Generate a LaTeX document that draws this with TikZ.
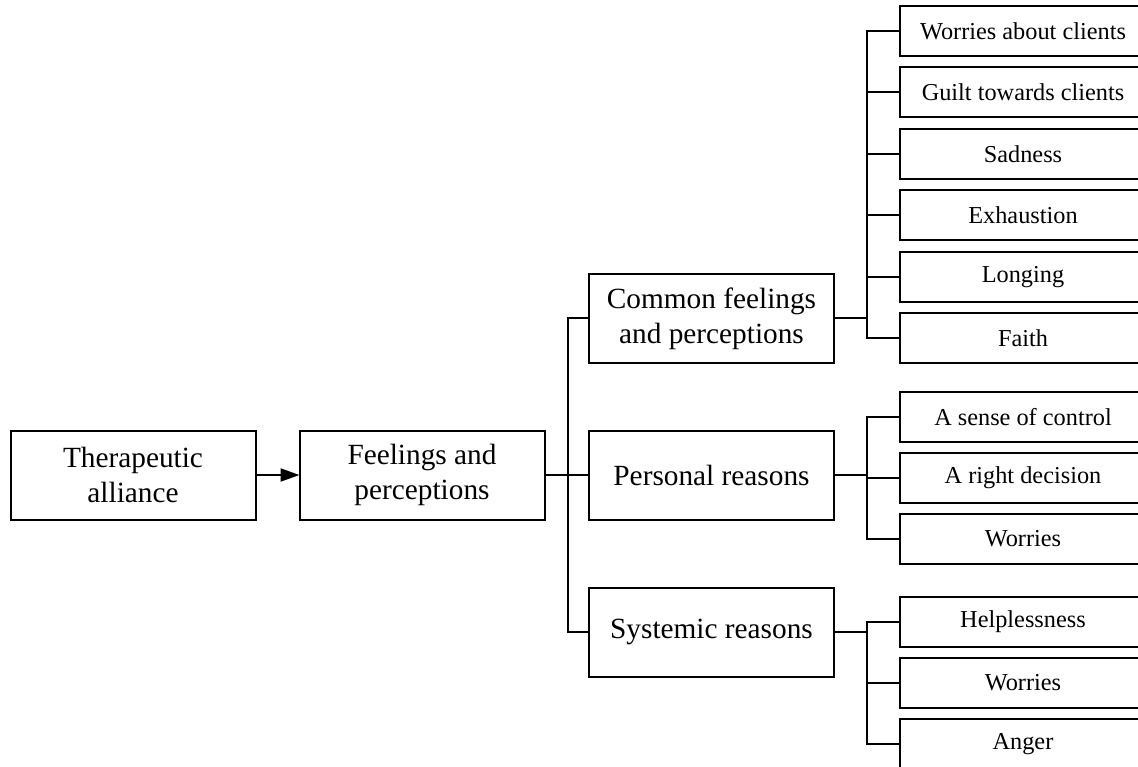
\documentclass[tikz,border=0pt]{standalone}
\usepackage{fontspec}
\setmainfont{Liberation Serif}
\usetikzlibrary{arrows.meta}
\tikzset{
  mainbox/.style={draw, line width=2pt, outer sep=0pt, inner sep=0pt, minimum width=245pt, minimum height=89pt, align=center, font=\fontsize{29.3}{35}\selectfont},
  leafbox/.style={draw, line width=2pt, outer sep=0pt, inner sep=0pt, minimum width=246pt, minimum height=50pt, align=center, font=\fontsize{24.3}{29}\selectfont},
  link/.style={line width=2pt},
}
\begin{document}
\begin{tikzpicture}[x=1pt, y=-1pt]
\useasboundingbox (0,0) rectangle (1138,767);
\clip (0,0) rectangle (1138,767);
\node[mainbox] (ta) at (133,475) {Therapeutic\\alliance};
\node[mainbox] (fp) at (422,475) {Feelings and\\perceptions};
\node[mainbox] (cf) at (711.5,318.5) {Common feelings\\and perceptions};
\node[mainbox] (pr) at (711.5,475) {Personal reasons};
\node[mainbox] (sr) at (711.5,632) {Systemic reasons};

\node[leafbox] (c1) at (1023,31) {Worries about clients};
\node[leafbox] (c2) at (1023,92.5) {Guilt towards clients};
\node[leafbox] (c3) at (1023,154) {Sadness};
\node[leafbox] (c4) at (1023,215.5) {Exhaustion};
\node[leafbox] (c5) at (1023,277) {Longing};
\node[leafbox] (c6) at (1023,338) {Faith};

\node[leafbox] (p1) at (1023,417) {A sense of control};
\node[leafbox] (p2) at (1023,478) {A right decision};
\node[leafbox] (p3) at (1023,539) {Worries};

\node[leafbox] (s1) at (1023,622) {Helplessness};
\node[leafbox] (s2) at (1023,682.5) {Worries};
\node[leafbox] (s3) at (1023,744) {Anger};

\draw[link, -{Triangle[length=19pt,width=13pt]}] (ta.east) -- (fp.west);

\foreach \c in {cf,pr,sr}
  \draw[link] (fp.east) -- ++(23,0) |- (\c.west);
\foreach \c in {c1,c2,c3,c4,c5,c6}
  \draw[link] (cf.east) -- ++(33,0) |- (\c.west);
\foreach \c in {p1,p2,p3}
  \draw[link] (pr.east) -- ++(33,0) |- (\c.west);
\foreach \c in {s1,s2,s3}
  \draw[link] (sr.east) -- ++(33,0) |- (\c.west);
\end{tikzpicture}
\end{document}
